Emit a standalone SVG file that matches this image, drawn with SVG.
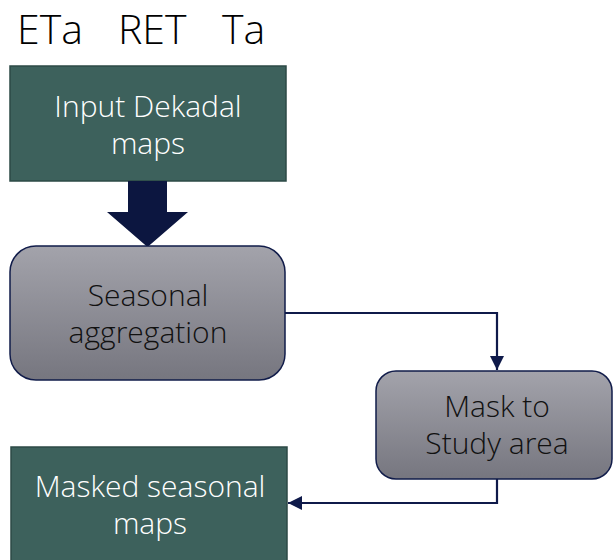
<svg xmlns="http://www.w3.org/2000/svg" width="613" height="560" viewBox="0 0 613 560">
<style>
.t{font-family:"Open Sans","Noto Sans","Liberation Sans",sans-serif;font-weight:300;text-anchor:middle}
.w{fill:#ffffff;font-size:30px}
.k{fill:#111111;font-size:30px}
.green{fill:#3d615c;stroke:#2c4a46;stroke-width:1.5}
.grey{fill:url(#g);stroke:#111c4a;stroke-width:1.5}
.con{fill:none;stroke:#0f1a4a;stroke-width:2.2}
</style>
<defs>
<linearGradient id="g" x1="0" y1="0" x2="0" y2="1">
<stop offset="0" stop-color="#a3a3ab"/>
<stop offset="1" stop-color="#76767f"/>
</linearGradient>
<marker id="ah2" viewBox="0 0 10 10" refX="10" refY="5" markerWidth="14" markerHeight="14" markerUnits="userSpaceOnUse" orient="auto">
<path d="M0,0 L10,5 L0,10 z" fill="#0f1a4a"/>
</marker>
</defs>
<text class="t" y="44" style="text-anchor:start;font-size:41px;fill:#000"><tspan x="17">ETa</tspan> <tspan x="118">RET</tspan> <tspan x="222">Ta</tspan></text>
<g id="input">
<rect class="green" x="10" y="66" width="276" height="115"/>
<text class="t w" x="148" y="117">Input Dekadal</text>
<text class="t w" x="148" y="154">maps</text>
</g>
<g id="connectors">
<path d="M128,181 H167 V212 H188 L147.5,247 L107,212 H128 Z" fill="#0c1640"/>
<path class="con" d="M285,313 H497 V370" marker-end="url(#ah2)"/>
<path class="con" d="M497,479 V503 H288" marker-end="url(#ah2)"/>
</g>
<g id="seasonal">
<rect class="grey" x="10" y="246" width="275" height="134" rx="26"/>
<text class="t k" x="148" y="306">Seasonal</text>
<text class="t k" x="148" y="343">aggregation</text>
</g>
<g id="mask">
<rect class="grey" x="376" y="371" width="236" height="108" rx="20"/>
<text class="t k" x="497" y="417">Mask to</text>
<text class="t k" x="497" y="454">Study area</text>
</g>
<g id="masked">
<rect class="green" x="11" y="447" width="276" height="120"/>
<text class="t w" x="150" y="497">Masked seasonal</text>
<text class="t w" x="150" y="534">maps</text>
</g>
</svg>
